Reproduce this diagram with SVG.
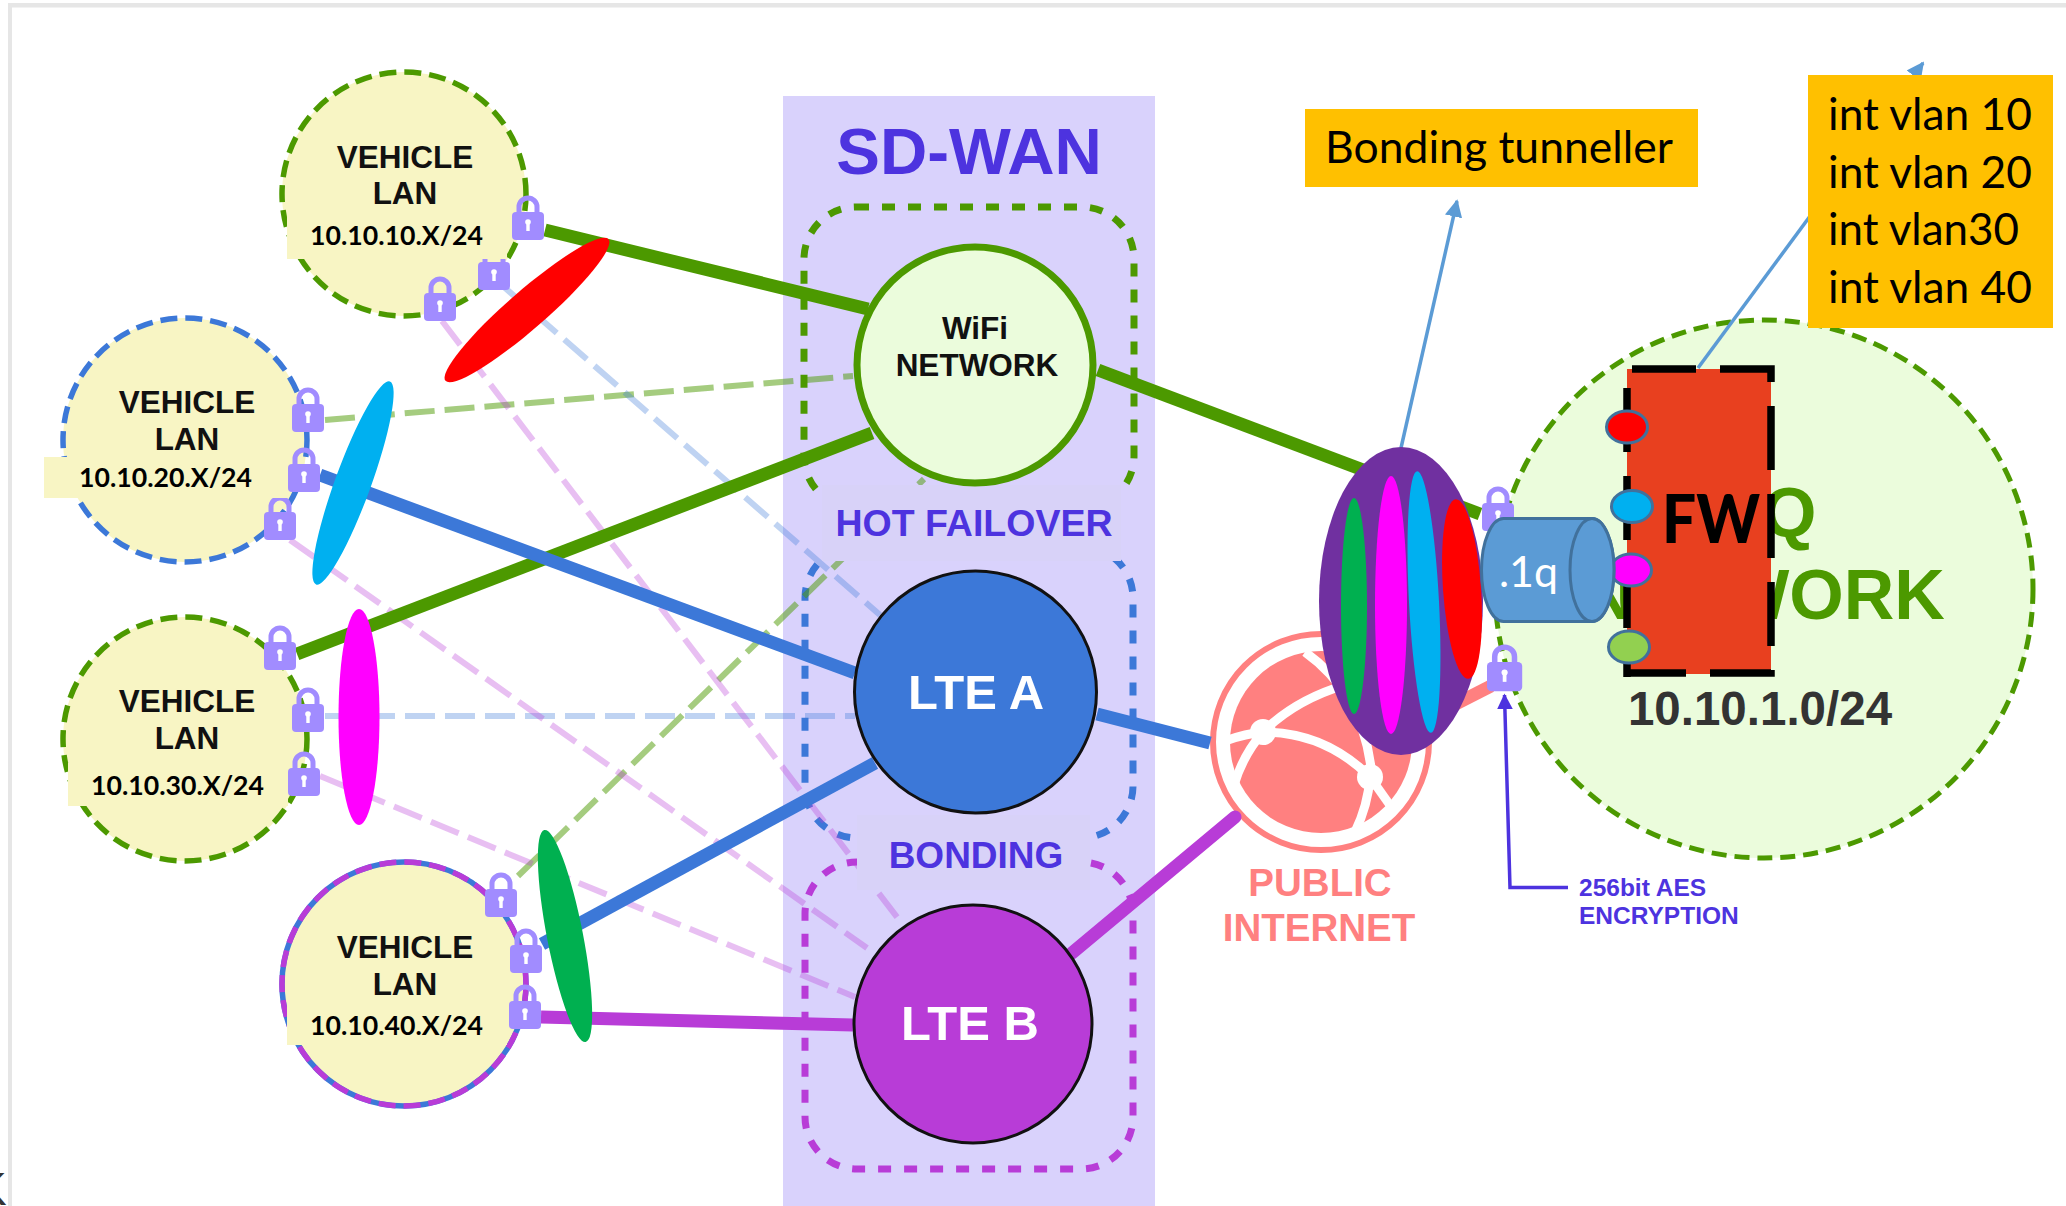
<svg xmlns="http://www.w3.org/2000/svg" xmlns:xlink="http://www.w3.org/1999/xlink" width="2066" height="1206" viewBox="0 0 2066 1206">
<style>
text{font-family:"Liberation Sans",Arial,sans-serif;font-weight:700;text-anchor:middle}
.lan{font-size:31.5px;fill:#111}
.ip{font-family:Lato,"Liberation Sans",sans-serif;font-size:27px;fill:#000;text-anchor:start}
.vc{fill:#F8F5C4}
.ipbg{fill:#F8F5C4}
.thick{fill:none;stroke-width:13}
.dash{fill:none;stroke-width:6;stroke-dasharray:30 10}
.g{stroke:#4C9900}.b{stroke:#3C78D8}.p{stroke:#B83CD7}
.dg{stroke:#4C9900;stroke-opacity:.5}.db{stroke:#3C78D8;stroke-opacity:.33}.dp{stroke:#B83CD7;stroke-opacity:.33}
.grp{fill:none;stroke-width:7;stroke-dasharray:13 13}
.ind{fill:#4D33DF}
.lbl{fill:#D8D2F8}
.box{fill:#FFC000}
.cal{font-family:Lato,"Liberation Sans",sans-serif;font-weight:400;text-anchor:start;fill:#000}
.port{stroke:#41719C;stroke-width:3}
.thin{fill:none;stroke:#5B9BD5;stroke-width:3.5}
</style>
<defs>
<g id="lock">
<path d="M7,20V13a9,9 0 0 1 18,0V20" fill="none" stroke="#A18CFF" stroke-width="5"/>
<rect x="0" y="18" width="32" height="28" rx="4" fill="#A18CFF"/>
<circle cx="16" cy="28" r="2.8" fill="#fff"/><rect x="14.3" y="28" width="3.4" height="9" fill="#fff"/>
</g>
<marker id="ah" viewBox="0 0 10 10" refX="9" refY="5" markerWidth="5" markerHeight="5" orient="auto"><path d="M0,0L10,5L0,10z" fill="#5B9BD5"/></marker>
<marker id="ai" viewBox="0 0 10 10" refX="9" refY="5" markerWidth="4.5" markerHeight="4.5" orient="auto"><path d="M0,0L10,5L0,10z" fill="#4D33DF"/></marker>
</defs>
<rect width="2066" height="1206" fill="#fff"/>
<text x="-24" y="1205" style="font-size:46px;font-weight:400;fill:#333;text-anchor:start">K</text>
<g id="frame"><rect x="8" y="3" width="2058" height="4.500" fill="#E6E6E6"/><rect x="8" y="3" width="4" height="1203" fill="#E6E6E6"/></g>

<g id="sdwan-panel">
<rect x="783" y="96" width="372" height="1110" fill="#D9D2FC"/>
<text x="969" y="174" class="ind" style="font-size:65.500px">SD-WAN</text>
<rect x="804" y="207" width="330" height="301" rx="52" class="grp g"/>
<rect x="805" y="546" width="328" height="292" rx="52" class="grp b"/>
<rect x="805" y="862" width="328" height="307" rx="52" class="grp p"/>
</g>

<g id="hq-network">
<circle cx="1764" cy="589" r="269" fill="#EBFCDC" stroke="#4C9900" stroke-width="5" stroke-dasharray="15 8"/>
<text x="1764" y="537" style="font-size:70px;fill:#4C9900">HQ</text>
<text x="1764" y="619" style="font-size:70px;fill:#4C9900">NETWORK</text>
<text x="1760" y="725" style="font-size:47.500px;fill:#333">10.10.1.0/24</text>
</g>

<g id="public-internet">
<circle cx="1321" cy="742" r="108" fill="#fff" stroke="#FF8080" stroke-width="6"/>
<circle cx="1321" cy="742" r="91" fill="#FF8080"/>
<g fill="none" stroke="#fff" stroke-width="9">
<path d="M1228,740Q1245,734 1263,732Q1325,732 1370,777"/>
<path d="M1263,732Q1295,700 1345,685"/>
<path d="M1263,732Q1243,755 1234,785"/>
<path d="M1305,652Q1365,695 1372,777"/>
<path d="M1370,777Q1368,805 1355,832"/>
<path d="M1370,777L1392,808"/>
</g>
<circle cx="1263" cy="732" r="13" fill="#fff"/><circle cx="1370" cy="777" r="13" fill="#fff"/>
<text x="1320" y="896" style="font-size:38.500px;fill:#FF8080">PUBLIC</text>
<text x="1319" y="941" style="font-size:38.500px;fill:#FF8080">INTERNET</text>
</g>

<g id="connectors">
<path class="dash dg" d="M325,420L853,376"/>
<path class="dash dg" d="M518,876L924,479"/>
<path class="dash db" d="M504,287L880,615"/>
<path class="dash db" d="M325,716L855,716"/>
<path class="dash dp" d="M442,321L903,925"/>
<path class="dash dp" d="M290,540L867,948"/>
<path class="dash dp" d="M320,776L855,997"/>
<path class="thick g" d="M545,230L868,309"/>
<path class="thick g" d="M297,654L872,433"/>
<path class="thick g" d="M1098,370L1480,514"/>
<path class="thick b" d="M320,475L855,673"/>
<path class="thick b" d="M542,944L875,763"/>
<path class="thick b" d="M1097,714L1210,743"/>
<path class="thick p" d="M541,1017L853,1025"/>
<path class="thick p" d="M1072,953L1235,817" stroke-linecap="round"/>
<path class="thick" d="M1440,712L1491,686" stroke="#FF8080"/>
<path class="thin" d="M1401,448L1457,201" marker-end="url(#ah)"/>
<path class="thin" d="M1698,368L1923,63" marker-end="url(#ah)"/>
<path d="M1568,887.500H1510L1504.500,695" fill="none" stroke="#4D33DF" stroke-width="3.500" marker-end="url(#ai)"/>
</g>

<g id="sdwan-labels">
<rect x="822" y="485" width="299" height="76" class="lbl"/>
<text x="974" y="536" class="ind" style="font-size:37.500px">HOT FAILOVER</text>
<rect x="857" y="815" width="233" height="75" class="lbl"/>
<text x="976" y="868" class="ind" style="font-size:37px">BONDING</text>
</g>

<g id="wifi-network">
<circle cx="975" cy="365" r="118" fill="#EBFCDC" stroke="#4C9900" stroke-width="7"/>
<text x="975" y="339" style="font-size:31.500px;fill:#111">WiFi</text>
<text x="977" y="376" style="font-size:31.500px;fill:#111">NETWORK</text>
</g>
<g id="lte-a">
<circle cx="975.500" cy="692" r="121" fill="#3C78D8" stroke="#111" stroke-width="3"/>
<text x="976" y="709" style="font-size:49px;fill:#fff">LTE A</text>
</g>
<g id="lte-b">
<circle cx="973" cy="1024" r="119" fill="#B83CD7" stroke="#111" stroke-width="3"/>
<text x="970" y="1040" style="font-size:49px;fill:#fff">LTE B</text>
</g>

<g id="vehicle-lan-1">
<circle cx="404" cy="194" r="122" class="vc" stroke="#4C9900" stroke-width="5.500" stroke-dasharray="17 8"/>
<use xlink:href="#lock" x="512" y="194"/><use xlink:href="#lock" x="478" y="244"/><use xlink:href="#lock" x="424" y="275"/>
<rect x="287" y="210" width="220" height="49" class="ipbg"/>
<text x="405" y="168" class="lan">VEHICLE</text><text x="405" y="204" class="lan">LAN</text>
<text x="310" y="245" class="ip" textLength="173" lengthAdjust="spacingAndGlyphs">10.10.10.X/24</text>
</g>
<g id="vehicle-lan-2">
<circle cx="185" cy="440" r="122" class="vc" stroke="#3C78D8" stroke-width="5.500" stroke-dasharray="17 8"/>
<use xlink:href="#lock" x="292" y="386"/><use xlink:href="#lock" x="288" y="446"/><use xlink:href="#lock" x="264" y="494"/>
<rect x="44" y="457" width="243" height="41" class="ipbg"/>
<text x="187" y="413" class="lan">VEHICLE</text><text x="187" y="450" class="lan">LAN</text>
<text x="79" y="487" class="ip" textLength="173" lengthAdjust="spacingAndGlyphs">10.10.20.X/24</text>
</g>
<g id="vehicle-lan-3">
<circle cx="185" cy="739" r="122" class="vc" stroke="#4C9900" stroke-width="5.500" stroke-dasharray="17 8"/>
<use xlink:href="#lock" x="264" y="624"/><use xlink:href="#lock" x="292" y="686"/><use xlink:href="#lock" x="288" y="750"/>
<rect x="68" y="763" width="220" height="43" class="ipbg"/>
<text x="187" y="712" class="lan">VEHICLE</text><text x="187" y="749" class="lan">LAN</text>
<text x="91" y="795" class="ip" textLength="173" lengthAdjust="spacingAndGlyphs">10.10.30.X/24</text>
</g>
<g id="vehicle-lan-4">
<circle cx="404" cy="984" r="122" class="vc" stroke="#3C78D8" stroke-width="5.500"/>
<circle cx="404" cy="984" r="122" fill="none" stroke="#B83CD7" stroke-width="5.500" stroke-dasharray="17 8"/>
<use xlink:href="#lock" x="485" y="871"/><use xlink:href="#lock" x="510" y="927"/><use xlink:href="#lock" x="509" y="983"/>
<rect x="287" y="1004" width="220" height="41" class="ipbg"/>
<text x="405" y="958" class="lan">VEHICLE</text><text x="405" y="995" class="lan">LAN</text>
<text x="310" y="1035" class="ip" textLength="173" lengthAdjust="spacingAndGlyphs">10.10.40.X/24</text>
</g>

<g id="vlan-tag-10"><ellipse cx="527" cy="310" rx="108" ry="19" fill="#FF0000" transform="rotate(-41 527 310)"/></g>
<g id="vlan-tag-20"><ellipse cx="353" cy="483" rx="18" ry="108" fill="#00B0F0" transform="rotate(20 353 483)"/></g>
<g id="vlan-tag-30"><ellipse cx="359" cy="717" rx="20.500" ry="108" fill="#FF00FF"/></g>
<g id="vlan-tag-40"><ellipse cx="565" cy="936" rx="18" ry="108" fill="#00B050" transform="rotate(-11 565 936)"/></g>

<g id="hq-locks"><use xlink:href="#lock" x="1482" y="485"/><use xlink:href="#lock" transform="translate(1487 643) scale(1.1 1.05)"/></g>

<g id="bonding-tunnel">
<ellipse cx="1401" cy="601" rx="82" ry="154" fill="#7030A0"/>
<ellipse cx="1354" cy="606" rx="13" ry="108" fill="#00B050"/>
<ellipse cx="1391" cy="605" rx="16" ry="129" fill="#FF00FF"/>
<ellipse cx="1424" cy="602" rx="15" ry="131" fill="#00B0F0" transform="rotate(-3 1424 602)"/>
<ellipse cx="1462" cy="589" rx="19" ry="90" fill="#FF0000" transform="rotate(-4 1462 589)"/>
</g>

<g id="firewall">
<rect x="1627" y="369" width="144" height="305" fill="#E8401F"/>
<path d="M1632,369H1771V673H1627" fill="none" stroke="#000" stroke-width="7.500" stroke-dasharray="64 24"/>
<path d="M1627,677V369" fill="none" stroke="#000" stroke-width="7.500" stroke-dasharray="64 24" stroke-dashoffset="39"/>
<text x="1662" y="543" style="font-family:Lato,'Liberation Sans',sans-serif;font-weight:900;font-size:66px;fill:#000;text-anchor:start" textLength="98" lengthAdjust="spacingAndGlyphs">FW</text>
<ellipse cx="1627" cy="427" rx="20.500" ry="16" fill="#FF0000" class="port"/>
<ellipse cx="1632" cy="506.500" rx="20.500" ry="16" fill="#00B0F0" class="port"/>
<ellipse cx="1631" cy="570" rx="20.500" ry="16" fill="#FF00FF" class="port"/>
<ellipse cx="1629" cy="647" rx="20.500" ry="16" fill="#92D050" class="port"/>
</g>

<g id="dot1q">
<path d="M1503.500,518.500H1592A22,51.500 0 0 1 1592,621.500H1503.500A22,51.500 0 0 1 1503.500,518.500z" fill="#5B9BD5" stroke="#41719C" stroke-width="3"/>
<ellipse cx="1592" cy="570" rx="22" ry="51.500" fill="#5B9BD5" stroke="#41719C" stroke-width="3"/>
<text x="1499" y="587" class="cal" style="font-size:43px;fill:#fff" textLength="59" lengthAdjust="spacingAndGlyphs">.1q</text>
</g>

<g id="aes-label">
<text x="1579" y="896" class="ind" style="font-size:24.500px;text-anchor:start">256bit AES</text>
<text x="1579" y="924" class="ind" style="font-size:24.500px;text-anchor:start">ENCRYPTION</text>
</g>

<g id="bonding-tunneller-box">
<rect x="1305" y="109" width="393" height="78" class="box"/>
<text x="1325" y="163" class="cal" style="font-size:44px" textLength="348" lengthAdjust="spacingAndGlyphs">Bonding tunneller</text>
</g>
<g id="vlan-box">
<rect x="1808" y="75" width="245" height="253" class="box"/>
<text x="1828" y="130" class="cal" style="font-size:44px" textLength="204" lengthAdjust="spacingAndGlyphs">int vlan 10</text>
<text x="1828" y="188" class="cal" style="font-size:44px" textLength="204" lengthAdjust="spacingAndGlyphs">int vlan 20</text>
<text x="1828" y="245" class="cal" style="font-size:44px" textLength="191" lengthAdjust="spacingAndGlyphs">int vlan30</text>
<text x="1828" y="303" class="cal" style="font-size:44px" textLength="204" lengthAdjust="spacingAndGlyphs">int vlan 40</text>
</g>
</svg>
